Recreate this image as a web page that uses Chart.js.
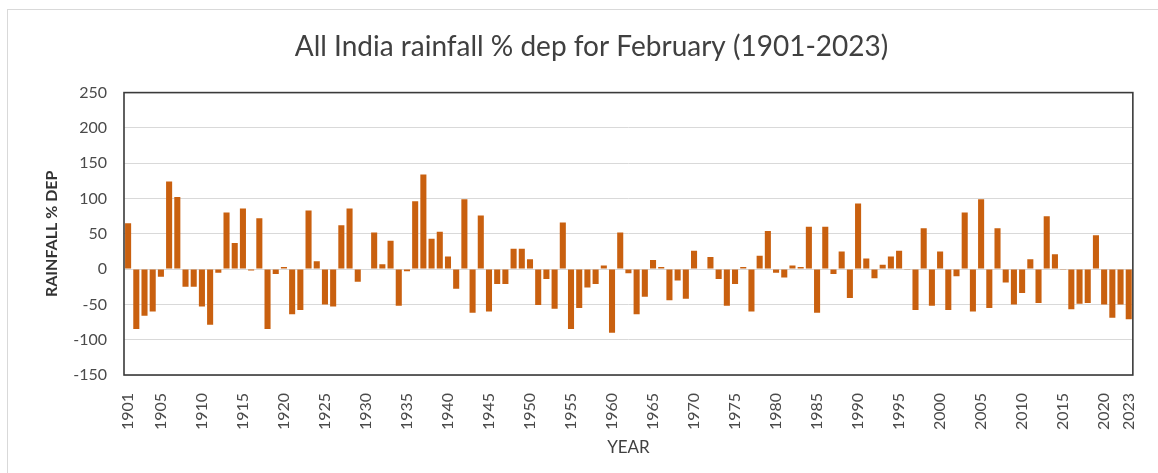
<!DOCTYPE html>
<html>
<head>
<meta charset="utf-8">
<script src="https://cdn.jsdelivr.net/npm/chart.js@4.4.0/dist/chart.umd.min.js"></script>
<style>
  html, body { margin: 0; padding: 0; background: #fff; }
  #wrap { position: relative; width: 1158px; height: 473px; overflow: hidden; }
  #frame { position: absolute; left: 7px; top: 9px; width: 1160px; height: 470px; border: 1px solid #d9d9d9; }
  canvas { position: absolute; left: 0; top: 0; }
</style>
</head>
<body>
<div id="wrap">
  <div id="frame"></div>
  <canvas id="rainChart" width="1158" height="473"></canvas>
</div>
<script>
// years 1901..2023 (categories)
const years = [];
for (let y = 1901; y <= 2023; y++) years.push(String(y));

// only these years get a label on the x axis
const tickYears = [1901, 1905, 1910, 1915, 1920, 1925, 1930, 1935, 1940, 1945, 1950,
  1955, 1960, 1965, 1970, 1975, 1980, 1985, 1990, 1995, 2000, 2005, 2010, 2015, 2020, 2023];

// February rainfall % departure
const depPct = [
  65, -85, -66, -60, -11, 124, 102, -25, -25, -53,      // 1901-1910
  -79, -5, 80, 37, 86, -2, 72, -85, -7, 3,              // 1911-1920
  -64, -58, 83, 11, -50, -53, 62, 86, -18, 1,           // 1921-1930
  52, 7, 40, -52, -3, 96, 134, 43, 53, 18,              // 1931-1940
  -28, 99, -62, 76, -60, -21, -21, 29, 29, 14,          // 1941-1950
  -51, -14, -56, 66, -85, -55, -26, -21, 5, -90,        // 1951-1960
  52, -6, -64, -39, 13, 3, -44, -16, -42, 26,           // 1961-1970
  1, 17, -14, -52, -21, 3, -60, 19, 54, -5,             // 1971-1980
  -12, 5, 3, 60, -62, 60, -7, 25, -41, 93,              // 1981-1990
  15, -13, 6, 18, 26, -1, -58, 58, -52, 25,             // 1991-2000
  -58, -10, 80, -60, 99, -55, 58, -19, -50, -34,        // 2001-2010
  14, -48, 75, 21, -1, -57, -49, -48, 48, -50,          // 2011-2020
  -69, -50, -71                                         // 2021-2023
];

const yTicks = { min: -150, max: 250, step: 50 };

const barColor = '#c9600f';
const font = 'Lato, "Open Sans", sans-serif';

// black frame round the plot area, like the excel original
const plotBorder = {
  id: 'plotBorder',
  afterDatasetsDraw(chart) {
    const { ctx, chartArea: a } = chart;
    ctx.save();
    ctx.strokeStyle = '#3a3a3a';
    ctx.lineWidth = 1.6;
    ctx.strokeRect(a.left, a.top, a.right - a.left, a.bottom - a.top);
    ctx.restore();
  }
};

new Chart(document.getElementById('rainChart'), {
  type: 'bar',
  data: {
    labels: years,
    datasets: [{
      label: 'RAINFALL % DEP',
      data: depPct,
      backgroundColor: barColor,
      borderWidth: 0,
      barPercentage: 0.74,
      categoryPercentage: 1.0
    }]
  },
  options: {
    responsive: false,
    animation: false,
    layout: { padding: { left: 38, right: 13, top: 0, bottom: 11 } },
    plugins: {
      legend: { display: false },
      tooltip: { enabled: false },
      title: {
        display: true,
        text: 'All India rainfall % dep for February (1901-2023)',
        color: '#404040',
        font: { family: font, size: 28, weight: 'normal' },
        padding: { top: 30, bottom: 29 }
      }
    },
    scales: {
      x: {
        grid: { display: false },
        border: { display: false },
        ticks: {
          autoSkip: false,
          minRotation: 90,
          maxRotation: 90,
          padding: 10,
          color: '#4a4a4a',
          font: { family: font, size: 16 },
          callback: function (val) {
            const yr = this.getLabelForValue(val);
            return tickYears.includes(Number(yr)) ? yr : '';
          }
        },
        title: {
          display: true,
          text: 'YEAR',
          color: '#404040',
          font: { family: font, size: 17 },
          padding: { top: 4, bottom: 4 }
        },
        afterFit(scale) { scale.height = 87; }
      },
      y: {
        min: yTicks.min,
        max: yTicks.max,
        grid: { color: '#d9d9d9', lineWidth: 1, drawTicks: false },
        border: { display: false },
        ticks: {
          stepSize: yTicks.step,
          padding: 17,
          color: '#4a4a4a',
          font: { family: font, size: 16 }
        },
        title: {
          display: true,
          text: 'RAINFALL % DEP',
          color: '#333333',
          font: { family: font, size: 16, weight: 'bold' },
          padding: { top: 4, bottom: 4 }
        },
        afterFit(scale) { scale.width = 86; }
      }
    }
  },
  plugins: [plotBorder]
});
</script>
</body>
</html>
